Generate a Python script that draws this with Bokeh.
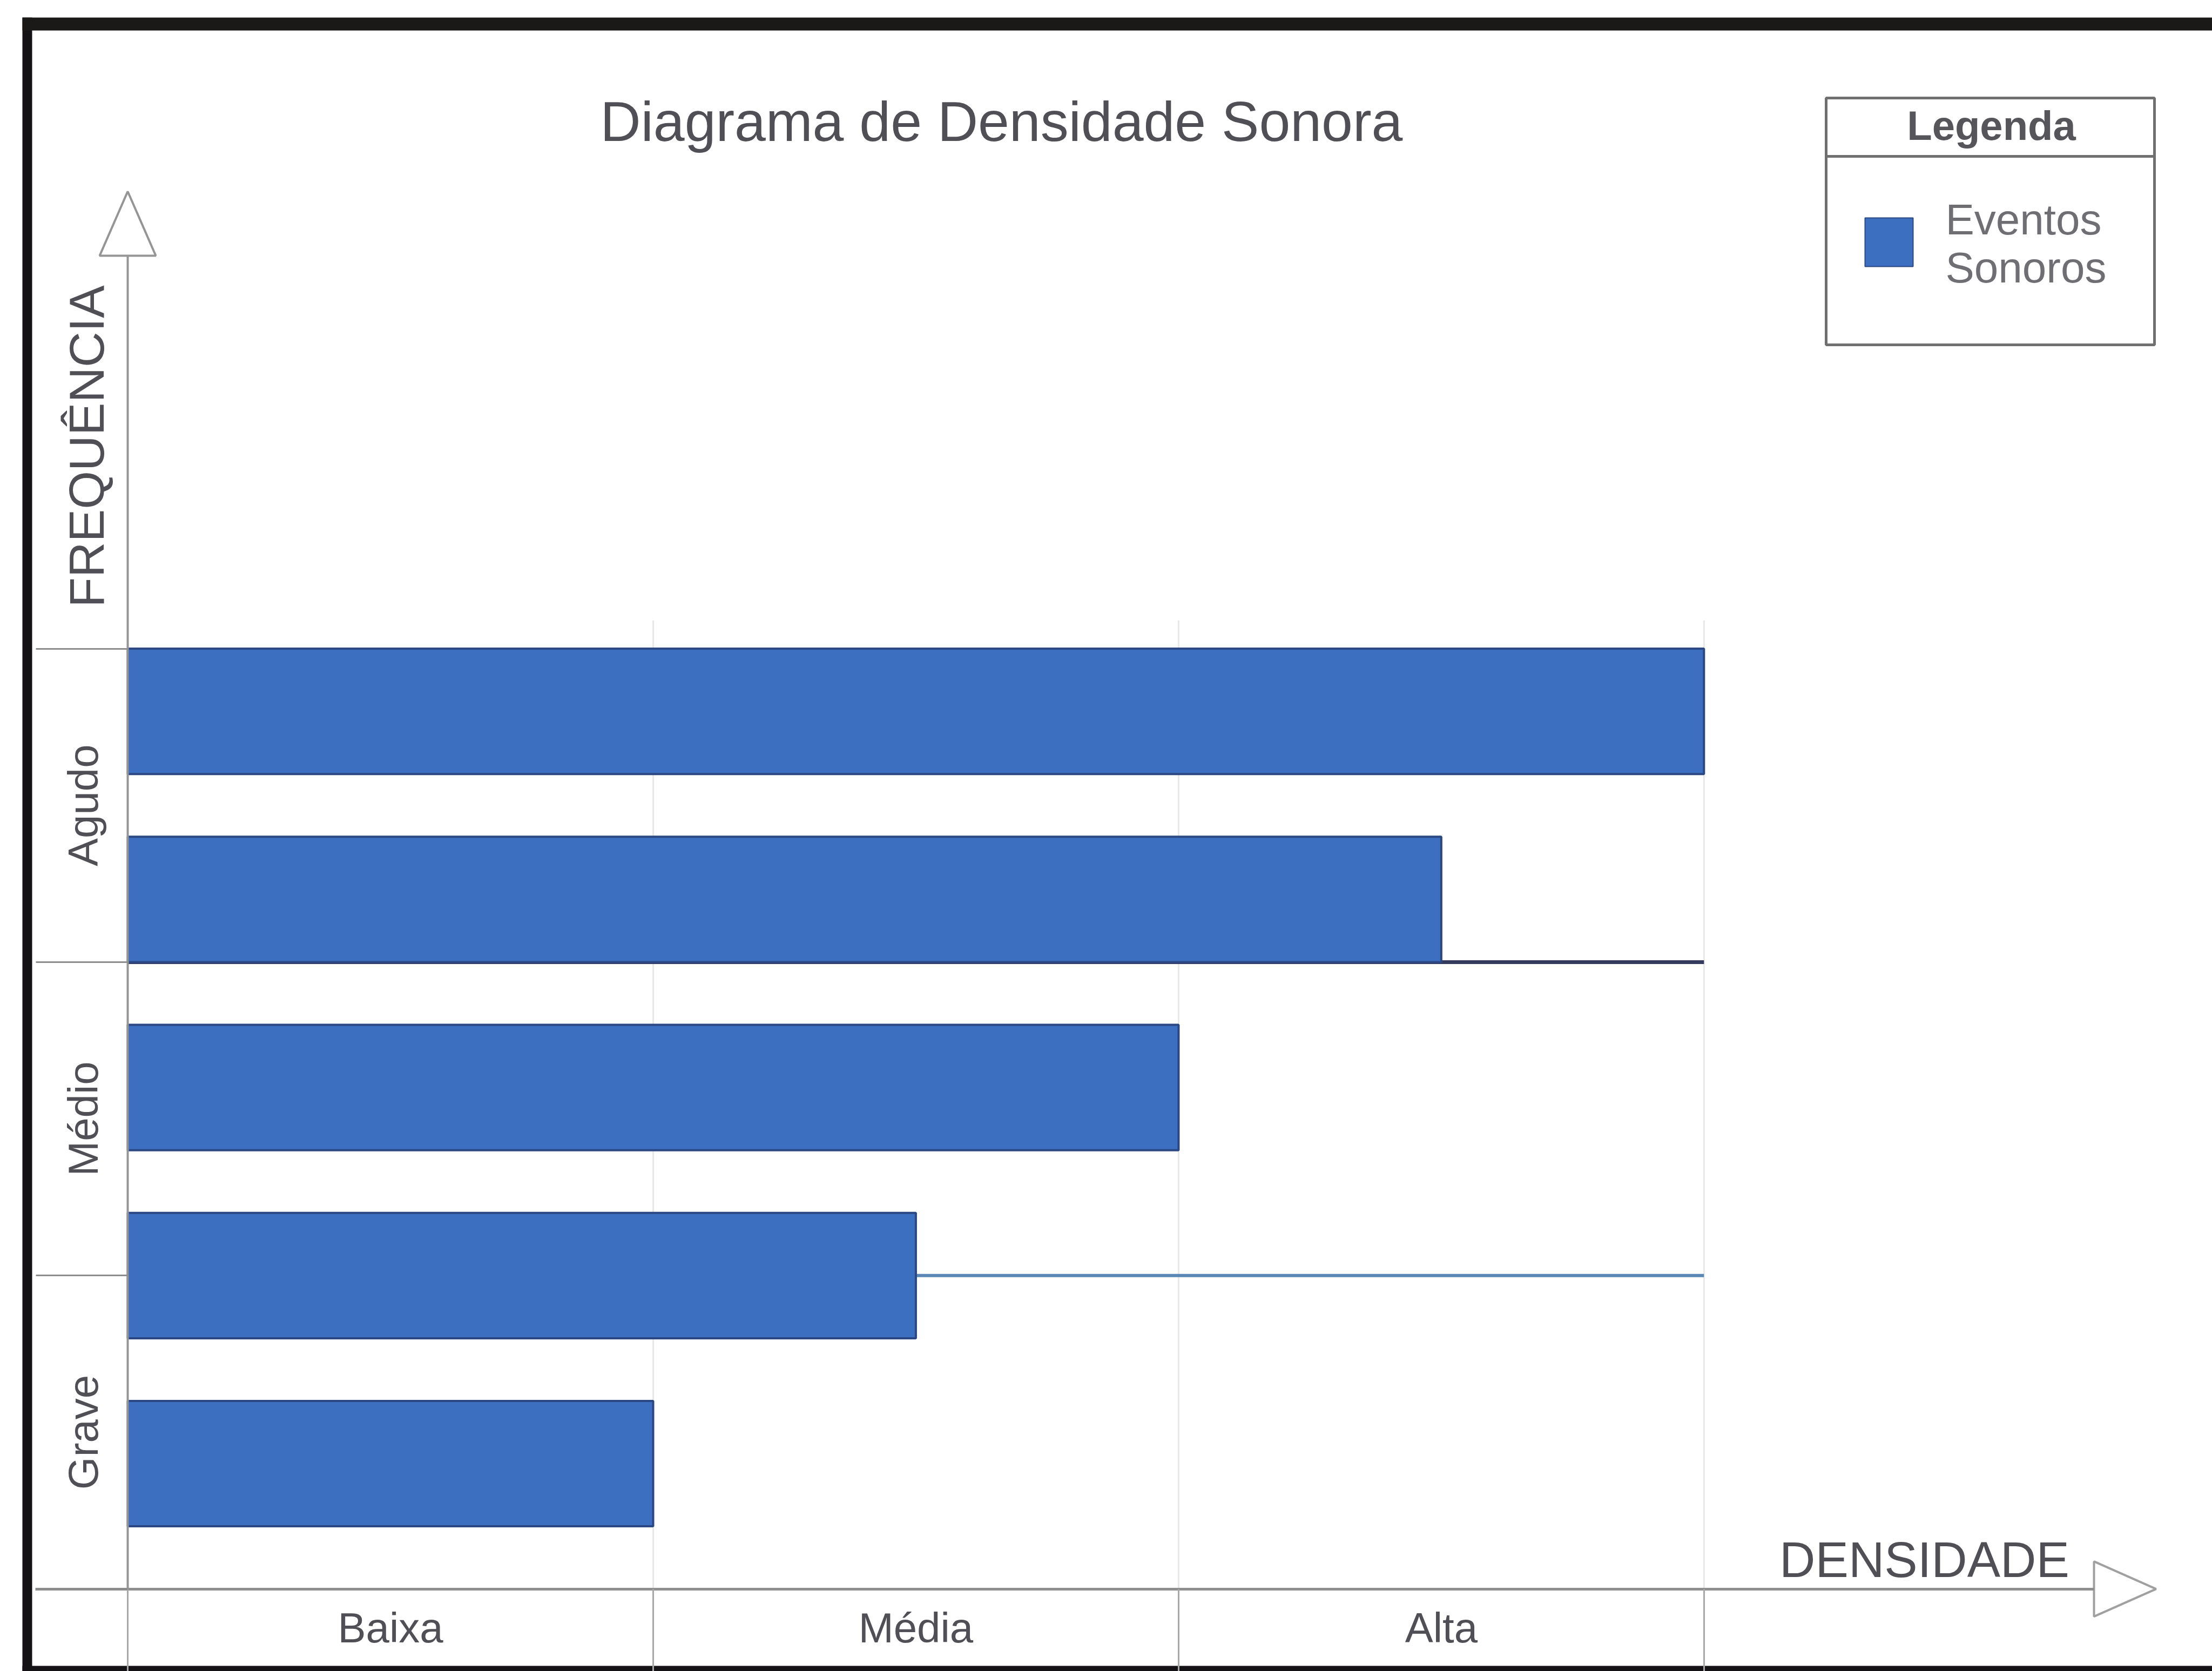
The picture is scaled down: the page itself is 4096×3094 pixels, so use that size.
import math
from bokeh.plotting import figure
from bokeh.models import Range1d, LinearAxis, FixedTicker, Label
from bokeh.embed import file_html
from bokeh.resources import INLINE

# ---------------- data ----------------
frequency_bands = ["Grave", "Médio", "Agudo"]          # y categories (bottom -> top)
density_levels = ["Baixa", "Média", "Alta"]            # x categories (left -> right)
event_frequency = [0.4, 1.0, 1.6, 2.2, 2.8]            # bar centre on the frequency scale
event_density = [1.0, 1.5, 2.0, 2.5, 3.0]              # bar length on the density scale
band_edges = [0, 1, 2, 3]
level_edges = [0, 1, 2, 3]
title_text = "Diagrama de Densidade Sonora"
x_title = "DENSIDADE"
y_title = "FREQUÊNCIA"
legend_title = "Legenda"
series_lines = ["Eventos", "Sonoros"]

# ---------------- layout helpers (pixels -> data) ----------------
W, H = 4096, 3094
X0, UX = 236.1, 972.9     # pixel of density 0, pixels per density unit
Y0, UY = 2941.7, 580.4    # pixel of frequency 0, pixels per frequency unit


def dx(px):
    return (px - X0) / UX


def dy(py):
    return (Y0 - py) / UY


FONT = "Liberation Sans"
TEXT = "#4f4f55"
BLUE = "#3c6fbf"
EDGE = "#2b4884"
AXIS = "#959595"

p = figure(width=W, height=H, output_backend="svg", toolbar_location=None,
           x_range=Range1d(dx(0), dx(W)), y_range=Range1d(dy(H), dy(0)),
           x_axis_location=None, y_axis_location=None, min_border=0)
p.outline_line_color = None
p.background_fill_color = "white"
p.border_fill_color = "white"
for g in list(p.xgrid) + list(p.ygrid):
    g.visible = False

# faint vertical grid lines at the density level edges
grid_x = level_edges[1:]
p.segment(x0=grid_x, y0=[band_edges[0]] * len(grid_x), x1=grid_x,
          y1=[band_edges[-1] + 0.09] * len(grid_x), line_color="#e8e8e8", line_width=3)

# horizontal band lines inside the plot (behind the bars)
band_y = band_edges[1:3]
p.segment(x0=[level_edges[0]] * len(band_y), y0=band_y, x1=[level_edges[-1]] * len(band_y),
          y1=band_y, line_color=["#5a87b3", "#343b5c"], line_width=[6, 7])

# bars
p.hbar(y=event_frequency, left=0, right=event_density, height=0.4,
       fill_color=BLUE, line_color=EDGE, line_width=4)

# ---------------- axes ----------------
xt = LinearAxis(fixed_location=0, ticker=FixedTicker(ticks=level_edges),
                bounds=(dx(65), dx(3877)),
                axis_line_color="#8f8f8f", axis_line_width=5,
                major_tick_in=0, major_tick_out=155,
                major_tick_line_color="#a8a8a8", major_tick_line_width=3,
                minor_tick_line_color=None,
                major_label_overrides={t: "" for t in level_edges},
                major_label_text_alpha=0)
p.add_layout(xt, "below")

x_label_ticks = [i + 0.5 for i in range(len(density_levels))]
xl = LinearAxis(fixed_location=0, ticker=FixedTicker(ticks=x_label_ticks),
                major_label_overrides=dict(zip(x_label_ticks, density_levels)),
                axis_line_color=None, major_tick_line_color=None, minor_tick_line_color=None,
                major_tick_in=0, major_tick_out=0, major_label_standoff=28,
                major_label_text_font=FONT, major_label_text_font_size="78px",
                major_label_text_color=TEXT)
p.add_layout(xl, "below")

yt = LinearAxis(fixed_location=0, ticker=FixedTicker(ticks=band_edges),
                bounds=(0, dy(473)),
                axis_line_color=AXIS, axis_line_width=4,
                major_tick_in=0, major_tick_out=170,
                major_tick_line_color="#8c8c8c", major_tick_line_width=3,
                minor_tick_line_color=None,
                major_label_overrides={t: "" for t in band_edges},
                major_label_text_alpha=0)
p.add_layout(yt, "left")

y_label_ticks = [i + 0.5 for i in range(len(frequency_bands))]
yl = LinearAxis(fixed_location=0, ticker=FixedTicker(ticks=y_label_ticks),
                major_label_overrides=dict(zip(y_label_ticks, frequency_bands)),
                major_label_orientation="vertical",
                axis_line_color=None, major_tick_line_color=None, minor_tick_line_color=None,
                major_tick_in=0, major_tick_out=0, major_label_standoff=39,
                major_label_text_font=FONT, major_label_text_font_size="78px",
                major_label_text_color=TEXT)
p.add_layout(yl, "left")

# open arrow heads
p.patch(x=[dx(236), dx(184), dx(288)], y=[dy(354), dy(473), dy(473)],
        fill_color="white", line_color=AXIS, line_width=4)
p.patch(x=[dx(3877), dx(3877), dx(3992)], y=[dy(Y0 - 51), dy(Y0 + 51), dy(Y0)],
        fill_color="white", line_color="#a0a0a0", line_width=4)

# ---------------- texts ----------------
p.add_layout(Label(x=dx(1854), y=dy(224), text=title_text, text_align="center",
                   text_baseline="middle", text_font=FONT, text_font_size="104px",
                   text_color=TEXT))
p.add_layout(Label(x=dx(3563), y=dy(2887), text=x_title, text_align="center",
                   text_baseline="middle", text_font=FONT, text_font_size="92px",
                   text_color=TEXT))
p.add_layout(Label(x=dx(160), y=dy(826), text=y_title, text_align="center",
                   text_baseline="middle", text_font=FONT, text_font_size="91px",
                   text_color=TEXT, angle=math.pi / 2))

# ---------------- legend (drawn by hand) ----------------
p.quad(left=[dx(3381)], right=[dx(3989)], top=[dy(181)], bottom=[dy(638)],
       fill_color="white", line_color="#707070", line_width=5)
p.segment(x0=[dx(3381)], y0=[dy(289)], x1=[dx(3989)], y1=[dy(289)],
          line_color="#707070", line_width=5)
p.quad(left=[dx(3453)], right=[dx(3542)], top=[dy(403)], bottom=[dy(493)],
       fill_color=BLUE, line_color=EDGE, line_width=2)
p.add_layout(Label(x=dx(3687), y=dy(232), text=legend_title, text_align="center",
                   text_baseline="middle", text_font=FONT, text_font_size="76px",
                   text_font_style="bold", text_color="#55555a"))
for txt, ypx in zip(series_lines, [406, 495]):
    p.add_layout(Label(x=dx(3602), y=dy(ypx), text=txt, text_align="left",
                       text_baseline="middle", text_font=FONT, text_font_size="80px",
                       text_color="#6e6e73"))

# ---------------- outer black frame ----------------
p.segment(x0=[dx(50)], y0=[dy(32)], x1=[dx(50)], y1=[dy(H)], line_color="#141214", line_width=18)
p.segment(x0=[dx(41)], y0=[dy(44)], x1=[dx(W)], y1=[dy(44)], line_color="#1b1818", line_width=24)
p.segment(x0=[dx(41)], y0=[dy(3089)], x1=[dx(W)], y1=[dy(3089)], line_color="#141214", line_width=10)

open("out.html", "w").write(file_html(p, INLINE))
